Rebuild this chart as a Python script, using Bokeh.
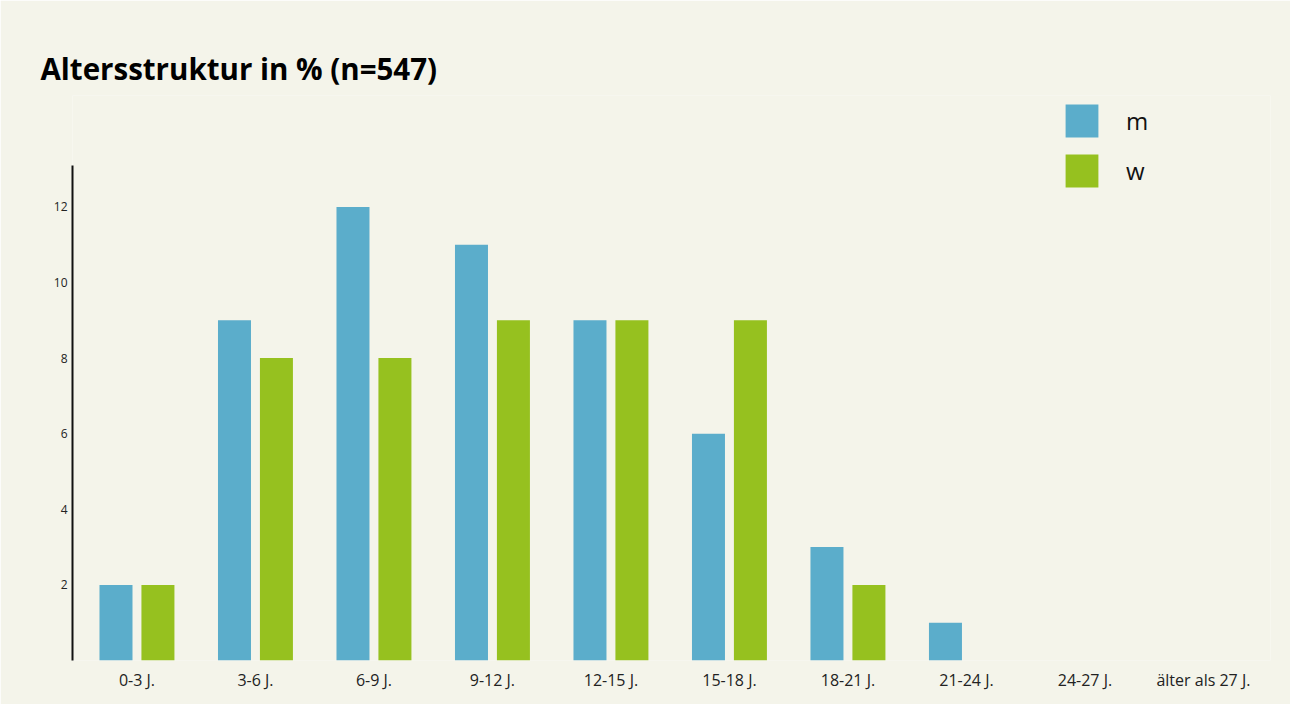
from bokeh.plotting import figure
from bokeh.models import (ColumnDataSource, FixedTicker, Legend, LegendItem, Range1d)
from bokeh.transform import dodge
from bokeh.embed import file_html
from bokeh.resources import INLINE

categories = ["0-3 J.", "3-6 J.", "6-9 J.", "9-12 J.", "12-15 J.", "15-18 J.",
              "18-21 J.", "21-24 J.", "24-27 J.", "älter als 27 J."]
m_values = [2, 9, 12, 11, 9, 6, 3, 1, 0, 0]
w_values = [2, 8, 8, 9, 9, 9, 2, 0, 0, 0]
y_ticks = [2, 4, 6, 8, 10, 12]
title_text = "Altersstruktur in % (n=547)"

BG = "#f4f4ea"
BLUE = "#5badcb"
GREEN = "#96c11f"
FONT = "Open Sans"

idx = list(range(len(categories)))
src = ColumnDataSource(dict(x=idx, m=m_values, w=w_values))

p = figure(width=1290, height=704, output_backend="svg", toolbar_location=None,
           x_range=Range1d(-0.544, 9.566), y_range=Range1d(0, 14.947),
           min_border_left=72, min_border_right=20, min_border_top=95,
           min_border_bottom=44)
p.background_fill_color = BG
p.border_fill_color = BG
p.outline_line_color = None
p.grid.visible = False

off = 0.177
bw = 0.2785
rm = p.vbar(x=dodge("x", -off), top="m", width=bw, source=src, fill_color=BLUE, line_color=None)
rw = p.vbar(x=dodge("x", off), top="w", width=bw, source=src, fill_color=GREEN, line_color=None)

# title
p.title.text = title_text
p.title.text_font = FONT
p.title.text_font_size = "29.5px"
p.title.text_font_style = "bold"
p.title.text_color = "#000000"
p.title.align = "left"
p.title.offset = -32
p.title.standoff = 14

# x axis
xa = p.xaxis[0]
xa.ticker = FixedTicker(ticks=idx)
xa.major_label_overrides = {i: c for i, c in zip(idx, categories)}
xa.axis_line_color = None
xa.major_tick_line_color = None
xa.major_tick_out = 0
xa.minor_tick_line_color = None
xa.major_label_standoff = 8
xa.major_label_text_font = FONT
xa.major_label_text_font_size = "16px"
xa.major_label_text_color = "#222222"

# y axis
ya = p.yaxis[0]
ya.ticker = FixedTicker(ticks=y_ticks)
ya.bounds = (0, 13.095)
ya.axis_line_color = "#111111"
ya.axis_line_width = 2
ya.major_tick_line_color = None
ya.major_tick_out = 0
ya.minor_tick_line_color = None
ya.major_label_standoff = 5
ya.major_label_text_font = FONT
ya.major_label_text_font_size = "12px"
ya.major_label_text_color = "#222222"

legend = Legend(items=[LegendItem(label="m", renderers=[rm]),
                       LegendItem(label="w", renderers=[rw])],
                location=(989, 469), orientation="vertical",
                glyph_width=41, glyph_height=41, label_height=41, label_width=20,
                spacing=9, padding=0, margin=0, label_standoff=24,
                border_line_color=None, background_fill_alpha=0,
                label_text_font=FONT, label_text_font_size="24px",
                label_text_color="#111111")
p.add_layout(legend, "center")

open("out.html", "w").write(file_html(p, INLINE))
